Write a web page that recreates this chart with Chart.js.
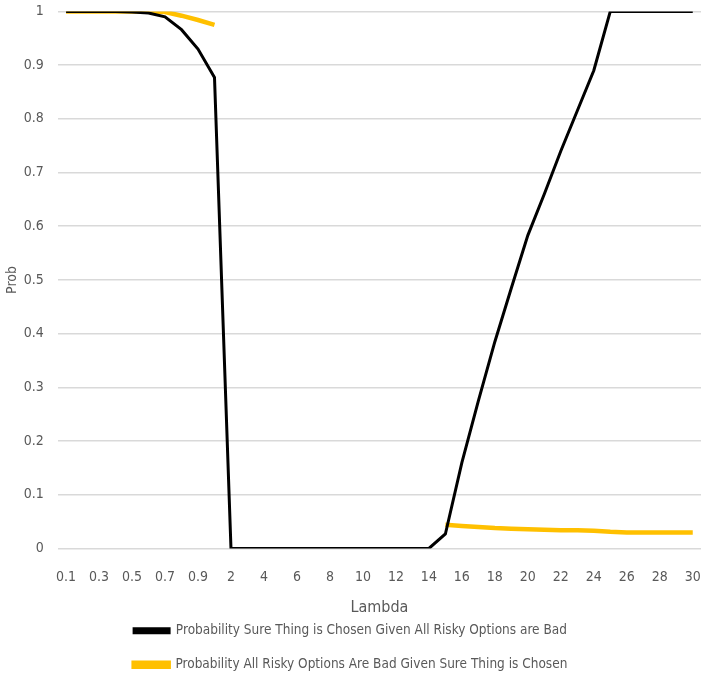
<!DOCTYPE html>
<html>
<head>
<meta charset="utf-8">
<script src="https://cdn.jsdelivr.net/npm/chart.js@4"></script>
<style>
  html, body { margin: 0; padding: 0; background: #fff; }
  #wrap { width: 701px; height: 673px; }
</style>
</head>
<body>
<div id="wrap"><canvas id="chart"></canvas></div>
<script>
const lambdas = ['0.1','0.2','0.3','0.4','0.5','0.6','0.7','0.8','0.9','1',
  '2','3','4','5','6','7','8','9','10','11','12','13','14','15','16','17','18','19','20',
  '21','22','23','24','25','26','27','28','29','30'];

// Probability Sure Thing is Chosen Given All Risky Options are Bad
const sureGivenBad = [1, 1, 1, 1, 0.999, 0.997, 0.99, 0.966, 0.93, 0.877,
  0, 0, 0, 0, 0, 0, 0, 0, 0, 0, 0, 0, 0, 0.027, 0.16, 0.275, 0.385, 0.485, 0.583,
  0.66, 0.74, 0.815, 0.89, 1, 1, 1, 1, 1, 1];

// Probability All Risky Options Are Bad Given Sure Thing is Chosen
const badGivenSure = [1, 1, 1, 1, 1, 1, 0.999, 0.992, 0.984, 0.975,
  null, null, null, null, null, null, null, null, null, null, null, null, null,
  0.044, 0.042, 0.040, 0.038, 0.037, 0.036, 0.035, 0.034, 0.034, 0.033, 0.031, 0.030, 0.030, 0.030, 0.030, 0.030];

const FONT = "'Liberation Sans Narrow', 'DejaVu Sans Condensed', sans-serif";
const GREY = '#595959';

// pull the legend up so it sits close under the axis title, like the original
const legendShift = {
  id: 'legendShift',
  afterLayout(chart) {
    chart.legend.top -= 14;
    chart.legend.bottom -= 14;
  }
};

new Chart(document.getElementById('chart').getContext('2d'), {
  type: 'line',
  data: {
    labels: lambdas,
    datasets: [
      {
        label: 'Probability Sure Thing is Chosen Given All Risky Options are Bad',
        data: sureGivenBad,
        borderColor: '#000000',
        backgroundColor: '#000000',
        borderWidth: 3,
        pointRadius: 0,
        tension: 0
      },
      {
        label: 'Probability All Risky Options Are Bad Given Sure Thing is Chosen',
        data: badGivenSure,
        borderColor: '#FFC000',
        backgroundColor: '#FFC000',
        borderWidth: 4.5,
        pointRadius: 0,
        tension: 0,
        spanGaps: false
      }
    ]
  },
  plugins: [legendShift],
  options: {
    responsive: true,
    maintainAspectRatio: false,
    animation: false,
    layout: { padding: { top: 0, right: 0, left: 0, bottom: -22.5 } },
    plugins: {
      tooltip: { enabled: false },
      legend: {
        position: 'bottom',
        labels: {
          font: { family: FONT, size: 13.5 },
          color: GREY,
          boxWidth: 35,
          boxHeight: 4,
          padding: 20.5
        }
      }
    },
    scales: {
      x: {
        offset: true,
        grid: { display: false, tickLength: 20 },
        border: { display: false },
        ticks: {
          autoSkip: false,
          maxRotation: 0,
          color: GREY,
          font: { family: FONT, size: 14 },
          padding: 0,
          callback: function (v, i) { return i % 2 === 0 ? this.getLabelForValue(v) : ''; }
        },
        title: {
          display: true,
          text: 'Lambda',
          color: GREY,
          font: { family: FONT, size: 16 },
          padding: { top: 13, bottom: 0 }
        }
      },
      y: {
        min: 0,
        max: 1,
        grid: { color: '#d9d9d9', lineWidth: 1.5, drawTicks: true, tickLength: 11, tickColor: 'rgba(0,0,0,0)' },
        border: { display: false },
        ticks: {
          stepSize: 0.1,
          color: GREY,
          font: { family: FONT, size: 14 },
          padding: 3,
          callback: v => Number(v.toFixed(1)).toString()
        },
        title: {
          display: true,
          text: 'Prob',
          color: GREY,
          font: { family: FONT, size: 14 },
          padding: { top: 4, bottom: 0 }
        }
      }
    }
  }
});
</script>
</body>
</html>
